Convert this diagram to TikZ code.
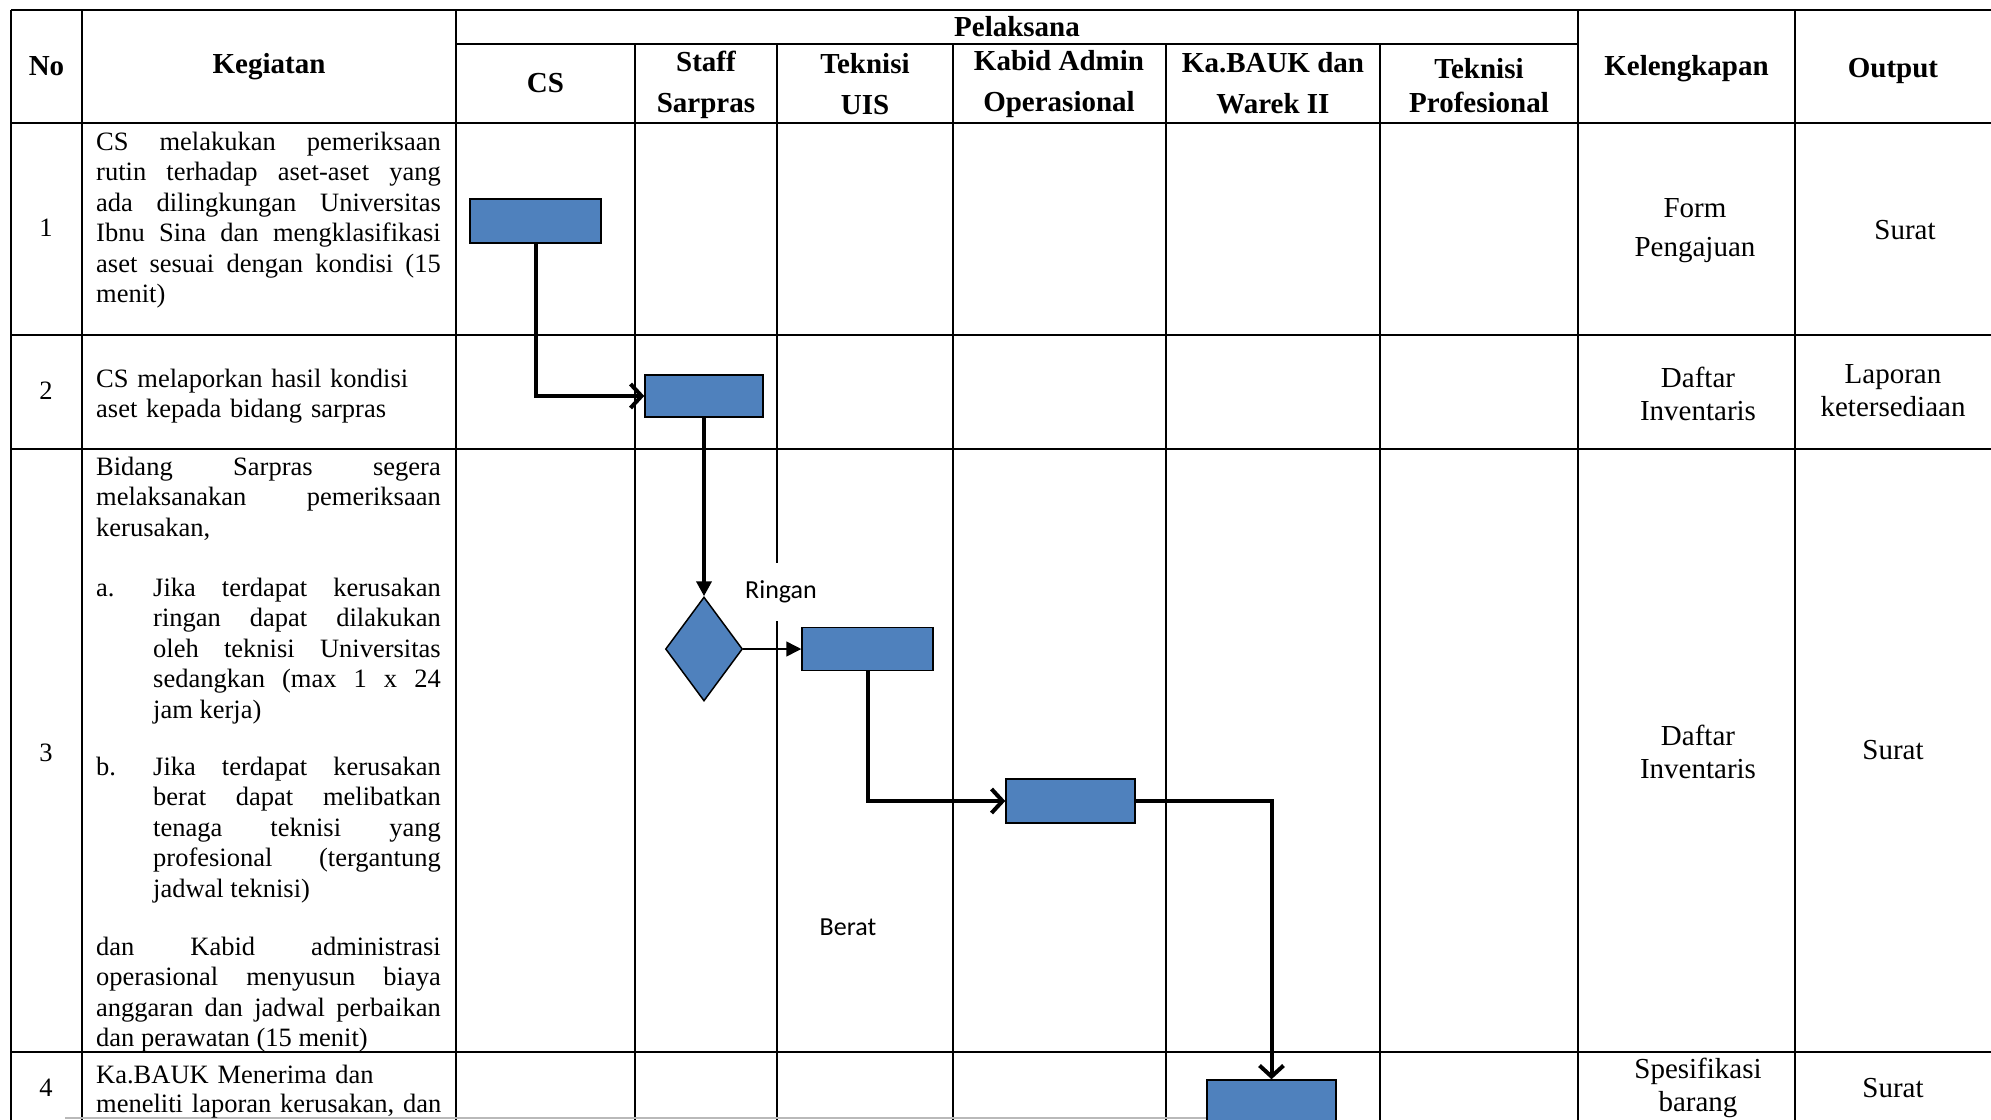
\documentclass[tikz,border=0pt]{standalone}
\usepackage{fontspec}
\setmainfont{Liberation Serif}
\newfontfamily\calibri{Carlito}
\usetikzlibrary{arrows.meta,shapes.geometric}
\definecolor{boxblue}{RGB}{79,129,189}

\tikzset{
  tabline/.style={line width=2pt},
  hdr/.style={font=\fontsize{29pt}{41pt}\selectfont\bfseries, align=center, inner sep=0pt},
  isi/.style={font=\fontsize{29pt}{33pt}\selectfont, align=center, inner sep=0pt},
  nomor/.style={font=\fontsize{26.5pt}{30.5pt}\selectfont, inner sep=0pt},
  keg/.style={anchor=base west, inner sep=0pt, text width=344.6pt, align=justify,
    font=\fontsize{26.5pt}{30.5pt}\selectfont},
  kegl/.style={keg, align=left, text width=370pt},
  item/.style={keg, text width=287.6pt},
  lbl/.style={font=\calibri\fontsize{26pt}{30pt}\selectfont, inner sep=0pt},
  proc/.style={draw=black, fill=boxblue, line width=1.5pt, minimum width=131pt,
    minimum height=44pt, inner sep=0pt},
  dec/.style={diamond, draw=black, fill=boxblue, line width=1.5pt, minimum width=77pt,
    minimum height=104pt, inner sep=0pt},
  flowo/.style={line width=4pt, -{Straight Barb[length=11pt,width=24pt]}},
  flowf/.style={line width=4pt, -{Triangle[length=15pt,width=15pt]}},
  flowt/.style={line width=1.5pt, -{Triangle[length=15pt,width=15pt]}}
}

\begin{document}
\begin{tikzpicture}[x=1pt, y=-1pt]
    \useasboundingbox (0,0) rectangle (1991,1119);
    \clip (0,0) rectangle (1991,1119);
    % grid
    \draw [tabline] (11,10) -- (1991,10);
    \draw [tabline] (456,44) -- (1578,44);
    \draw [tabline] (11,123) -- (1991,123);
    \draw [tabline] (11,335) -- (1991,335);
    \draw [tabline] (11,449) -- (1991,449);
    \draw [tabline] (11,1052) -- (1991,1052);
    \draw [tabline] (11,10) -- (11,1130);
    \draw [tabline] (82,10) -- (82,1130);
    \draw [tabline] (456,10) -- (456,1130);
    \draw [tabline] (635,44) -- (635,1130);
    \draw [tabline] (777,44) -- (777,1130);
    \draw [tabline] (953,44) -- (953,1130);
    \draw [tabline] (1166,44) -- (1166,1130);
    \draw [tabline] (1380,44) -- (1380,1130);
    \draw [tabline] (1578,10) -- (1578,1130);
    \draw [tabline] (1795,10) -- (1795,1130);
    \draw [gray!55, line width=1.5pt] (65,1118) -- (1207,1118);
    % header
    \node [hdr] (hno) at (46.5,66.5) {No};
    \node [hdr] (hkeg) at (269,66.5) {Kegiatan};
    \node [hdr] (hpel) at (1017,27) {Pelaksana};
    \node [hdr] (hcs) at (545.5,83.5) {CS};
    \node [hdr] (hstaff) at (706,84.5) {Staff\\Sarpras};
    \node [hdr] (huis) at (865,84) {Teknisi\\UIS};
    \node [hdr] (hkabid) at (1059,84.5) {Kabid Admin\\Operasional};
    \node [hdr] (hbauk) at (1273,83) {Ka.BAUK dan\\Warek II};
    \node [hdr] (hprof) at (1479,86) {Teknisi\\[-7pt]Profesional};
    \node [hdr] (hkel) at (1686.5,69) {Kelengkapan};
    \node [hdr] (hout) at (1893,71) {Output};
    % 1
    \node [nomor] (n1) at (46,228) {1};
    \node [keg] (k1) at (96,150) {CS melakukan pemeriksaan\linebreak rutin terhadap aset-aset yang\linebreak ada dilingkungan Universitas\linebreak Ibnu Sina dan mengklasifikasi\linebreak aset sesuai dengan kondisi (15\linebreak menit)};
    \node [isi] (kel1) at (1695,230.5) {Form\\[6pt]Pengajuan};
    \node [isi] (out1) at (1905,230) {Surat};
    % 2
    \node [nomor] (n2) at (46,391) {2};
    \node [kegl] (k2) at (96,387) {CS melaporkan hasil kondisi\\aset kepada bidang sarpras};
    \node [isi] (kel2) at (1698,394) {Daftar\\Inventaris};
    \node [isi] (out2) at (1893,391) {Laporan\\ketersediaan};
    % 3
    \node [nomor] (n3) at (46,753) {3};
    \node [keg] (k3) at (96,475) {Bidang Sarpras segera\linebreak melaksanakan pemeriksaan\linebreak kerusakan,};
    \node [keg, text width=40pt] (k3al) at (96,596) {a.};
    \node [item] (k3a) at (153,596) {Jika terdapat kerusakan\linebreak ringan dapat dilakukan\linebreak oleh teknisi Universitas\linebreak sedangkan (max 1 x 24\linebreak jam kerja)};
    \node [keg, text width=40pt] (k3bl) at (96,775) {b.};
    \node [item] (k3b) at (153,775) {Jika terdapat kerusakan\linebreak berat dapat melibatkan\linebreak tenaga teknisi yang\linebreak profesional (tergantung\linebreak jadwal teknisi)};
    \node [keg] (k3c) at (96,955) {dan Kabid administrasi\linebreak operasional menyusun biaya\linebreak anggaran dan jadwal perbaikan\linebreak dan perawatan (15 menit)};
    \node [isi] (kel3) at (1698,752) {Daftar\\Inventaris};
    \node [isi] (out3) at (1893,750) {Surat};
    % 4
    \node [nomor] (n4) at (46,1088) {4};
    \node [kegl, font=\fontsize{26.5pt}{29pt}\selectfont] (k4) at (96,1083) {Ka.BAUK Menerima dan\\meneliti laporan kerusakan, dan};
    \node [isi] (kel4) at (1698,1087.5) {Spesifikasi\\barang};
    \node [isi] (out4) at (1893,1088) {Surat};
    % labels
    \node [lbl, fill=white, inner xsep=4pt, inner ysep=18pt] (ringan) at (781,592) {Ringan};
    \node [lbl] (berat) at (848,927) {Berat};
    % flow
    \node [proc] (b1) at (535.5,221) {};
    \node [proc, minimum width=118pt, minimum height=42pt] (b2) at (704,396) {};
    \node [dec] (d1) at (704,649) {};
    \node [proc, minimum height=43pt] (b3) at (867.5,649) {};
    \node [proc, minimum width=129pt] (b4) at (1070.5,801) {};
    \node [proc, minimum width=129pt] (b5) at (1271.5,1102) {};
    \draw [flowo] (b1.south) |- (b2.west);
    \draw [flowf] (b2.south) -- (d1.north);
    \draw [flowt] (d1.east) -- (b3.west);
    \draw [flowo] (b3.south) |- (b4.west);
    \draw [flowo] (b4.east) -| (b5.north);
  \end{tikzpicture}
\end{document}
